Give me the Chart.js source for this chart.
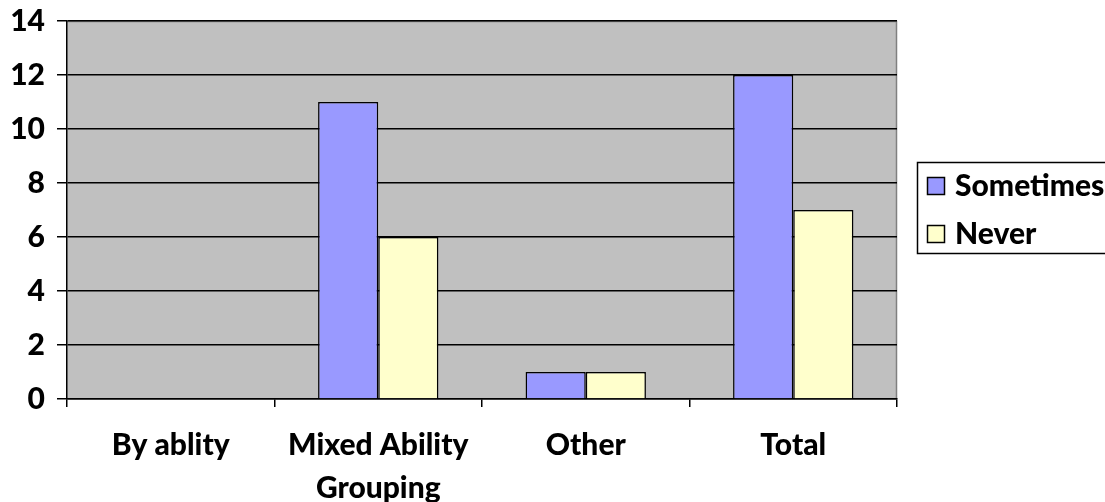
<!DOCTYPE html>
<html><head><meta charset="utf-8">
<script src="https://cdn.jsdelivr.net/npm/chart.js@4/dist/chart.umd.min.js"></script>
<style>html,body{margin:0;padding:0;background:#fff;}#wrap{width:1105px;height:502px;}</style>
</head><body><div id="wrap"><canvas id="c" width="1105" height="502"></canvas></div>
<script>
const categories = [["By ablity"], ["Mixed Ability", "Grouping"], ["Other"], ["Total"]];
const sometimes = [0, 11, 1, 12];
const never = [0, 6, 1, 7];
const yTicks = [0, 2, 4, 6, 8, 10, 12, 14];
const FONT = "Lato";

const legendBox = {
  id: 'legendBox',
  afterDraw(chart) {
    const ctx = chart.ctx;
    ctx.save();
    ctx.fillStyle = '#fff';
    ctx.strokeStyle = '#000';
    ctx.lineWidth = 1.5;
    ctx.fillRect(917.5, 162.5, 200, 91);
    ctx.strokeRect(917.5, 162.5, 200, 91);
    const ys = [186, 234];
    chart.data.datasets.forEach((ds, i) => {
      ctx.fillStyle = ds.backgroundColor;
      ctx.fillRect(927.5, ys[i] - 8.5, 17, 17);
      ctx.strokeRect(927.5, ys[i] - 8.5, 17, 17);
      ctx.fillStyle = '#000';
      ctx.font = '900 30px ' + FONT;
      ctx.textBaseline = 'middle';
      ctx.textAlign = 'left';
      ctx.fillText(ds.label, 955, ys[i]);
    });
    ctx.restore();
  }
};

const plotBg = {
  id: 'plotBg',
  beforeDraw(chart) {
    const a = chart.chartArea, ctx = chart.ctx;
    ctx.save();
    ctx.fillStyle = '#c0c0c0';
    ctx.fillRect(a.left, a.top, a.right - a.left, a.bottom - a.top);
    ctx.strokeStyle = '#808080';
    ctx.lineWidth = 1.5;
    ctx.beginPath();
    ctx.moveTo(a.left, a.top + 0.5); ctx.lineTo(a.right - 0.5, a.top + 0.5); ctx.lineTo(a.right - 0.5, a.bottom);
    ctx.stroke();
    ctx.restore();
  }
};

new Chart(document.getElementById('c'), {
  type: 'bar',
  data: {
    labels: categories,
    datasets: [
      { label: 'Sometimes', data: sometimes, backgroundColor: '#9999ff', borderColor: '#000', borderWidth: 1.5, borderSkipped: 'bottom' },
      { label: 'Never', data: never, backgroundColor: '#ffffcc', borderColor: '#000', borderWidth: 1.5, borderSkipped: 'bottom' }
    ]
  },
  options: {
    responsive: false,
    animation: false,
    layout: { padding: { top: 21, right: 208, bottom: 0, left: 0 } },
    datasets: { bar: { categoryPercentage: 0.58, barPercentage: 1.0 } },
    plugins: { legend: { display: false }, tooltip: { enabled: false } },
    scales: {
      x: {
        afterFit(s) { s.height = 103; s.paddingLeft = 0; s.paddingRight = 0; },
        grid: { offset: true, drawOnChartArea: false, color: '#000', tickLength: 8, lineWidth: 1.5 },
        border: { color: '#000', width: 1.5 },
        ticks: { color: '#000', font: { family: FONT, size: 30, weight: '900', lineHeight: 1.43 }, padding: 17, maxRotation: 0, autoSkip: false }
      },
      y: {
        min: 0, max: 14,
        afterFit(s) { s.width = 67; s.paddingTop = 0; s.paddingBottom = 0; },
        afterBuildTicks(s) { s.ticks = yTicks.map(v => ({ value: v })); },
        grid: { color: '#000', tickLength: 10, lineWidth: 1.5 },
        border: { color: '#000', width: 1.5 },
        ticks: { color: '#000', font: { family: FONT, size: 30, weight: '900' }, padding: 12 }
      }
    }
  },
  plugins: [plotBg, legendBox]
});
</script></body></html>
